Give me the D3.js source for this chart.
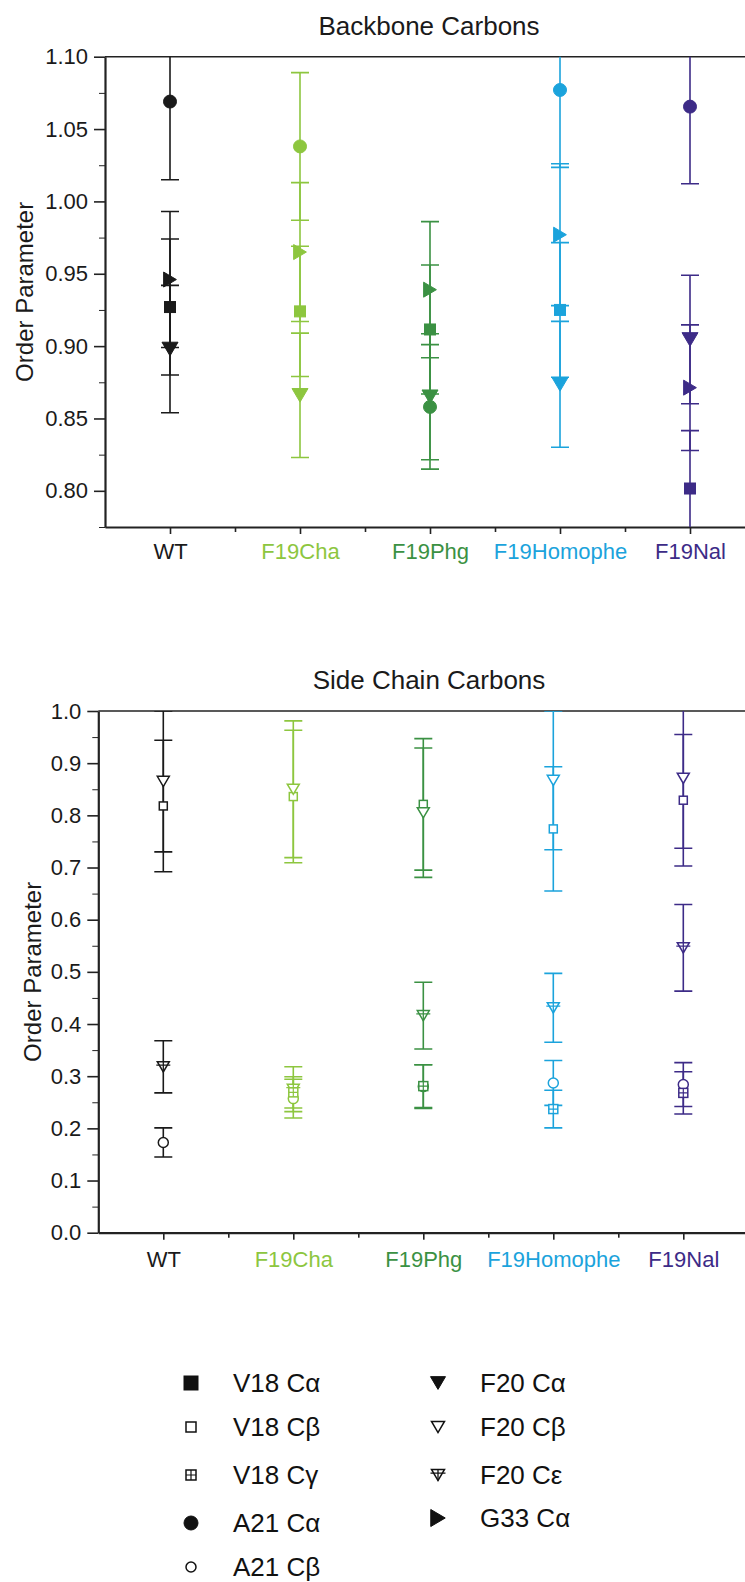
<!DOCTYPE html>
<html lang="en">
	<head>
		<meta charset="utf-8">
		<title>Order Parameter: Backbone and Side Chain Carbons</title>
		<script type="text/javascript" src="https://cdnjs.cloudflare.com/ajax/libs/d3/7.8.5/d3.min.js"></script>
		<style>
			body { margin: 0; background: #fff; }
			svg { display: block; font-family: "Liberation Sans", Arial, sans-serif; }
			.axis path, .axis line { stroke: #222; }
			.axis text { font-size: 22px; }
		</style>
	</head>
	<body>
		<div id="vis"></div>

		<script type="text/javascript">
			// categories and colours
			var groups = ["WT", "F19Cha", "F19Phg", "F19Homophe", "F19Nal"];
			var groupColors = ["#1a1a1a", "#8dc63f", "#3b9143", "#1ba3dc", "#3d2b87"];

			// backbone carbons (mean, error)
			var v18Ca = [0.927, 0.924, 0.9115, 0.925, 0.8016];
			var v18CaErr = [0.047, 0.045, 0.0446, 0.0465, 0.040];
			var a21Ca = [1.069, 1.038, 0.858, 1.077, 1.0655];
			var a21CaErr = [0.054, 0.051, 0.043, 0.0535, 0.0533];
			var f20Ca = [0.898, 0.866, 0.865, 0.8736, 0.9046];
			var f20CaErr = [0.044, 0.043, 0.0435, 0.0435, 0.0444];
			var g33Ca = [0.946, 0.965, 0.939, 0.977, 0.8713];
			var g33CaErr = [0.047, 0.048, 0.047, 0.049, 0.0434];

			// side chain carbons (mean, error)
			var v18Cb = [0.818, 0.836, 0.821, 0.774, 0.829];
			var v18CbErr = [0.126, 0.127, 0.126, 0.119, 0.126];
			var v18Cg = [null, 0.269, 0.281, 0.237, 0.268];
			var v18CgErr = [null, 0.030, 0.041, 0.036, 0.0405];
			var a21Cb = [0.173, 0.257, 0.280, 0.287, 0.284];
			var a21CbErr = [0.028, 0.037, 0.042, 0.043, 0.042];
			var f20Cb = [0.865, 0.850, 0.805, 0.867, 0.871];
			var f20CbErr = [0.135, 0.131, 0.124, 0.133, 0.134];
			var f20Ce = [0.318, 0.275, 0.416, 0.431, 0.546];
			var f20CeErr = [0.050, 0.043, 0.064, 0.066, 0.083];

			// axis ticks
			var topTicks = [0.80, 0.85, 0.90, 0.95, 1.00, 1.05, 1.10];
			var topMinor = [0.775, 0.825, 0.875, 0.925, 0.975, 1.025, 1.075];
			var sideTicks = [0.0, 0.1, 0.2, 0.3, 0.4, 0.5, 0.6, 0.7, 0.8, 0.9, 1.0];
			var sideMinor = [0.05, 0.15, 0.25, 0.35, 0.45, 0.55, 0.65, 0.75, 0.85, 0.95];

			// legend
			var legendLeft = ["V18 Cα", "V18 Cβ", "V18 Cγ", "A21 Cα", "A21 Cβ"];
			var legendLeftMarks = ["sqFill", "sqOpen", "sqGrid", "circFill", "circOpen"];
			var legendRight = ["F20 Cα", "F20 Cβ", "F20 Cε", "G33 Cα"];
			var legendRightMarks = ["triDownFill", "triDownOpen", "triDownCross", "triRightFill"];

			var W = 745, H = 1582;
			var svg = d3.select("#vis").append("svg").attr("width", W).attr("height", H);

			// draws one symbol centred on 0,0 inside g
			var marker = function(g, type, s, color) {
				var fill = /Fill/.test(type) ? color : "#fff";
				var sw = /Fill/.test(type) ? 1 : 1.5;
				var h = s * 0.85;
				if (/^sq/.test(type)) {
					g.append("rect").attr("x", -s / 2).attr("y", -s / 2).attr("width", s).attr("height", s)
						.attr("fill", fill).attr("stroke", color).attr("stroke-width", sw);
					if (type == "sqGrid") {
						g.append("path").attr("d", "M" + (-s / 2) + ",0H" + (s / 2) + "M0," + (-s / 2) + "V" + (s / 2))
							.attr("stroke", color).attr("stroke-width", 1.2);
					}
				} else if (/^circ/.test(type)) {
					g.append("circle").attr("r", s / 2).attr("fill", fill).attr("stroke", color).attr("stroke-width", sw);
				} else if (/^triDown/.test(type)) {
					g.append("path").attr("d", "M" + (-s / 2) + "," + (-h / 2) + "L" + (s / 2) + "," + (-h / 2) + "L0," + (h / 2) + "Z")
						.attr("fill", fill).attr("stroke", color).attr("stroke-width", sw).attr("stroke-linejoin", "miter");
					if (type == "triDownCross") {
						g.append("path").attr("d", "M" + (-s / 2 - 1) + "," + (-h / 6) + "H" + (s / 2 + 1) + "M0," + (-h / 2) + "V" + (h / 2))
							.attr("stroke", color).attr("stroke-width", 1.3);
					}
				} else if (type == "triRightFill") {
					g.append("path").attr("d", "M" + (-h / 2) + "," + (-s / 2) + "L" + (h / 2) + ",0L" + (-h / 2) + "," + (s / 2) + "Z")
						.attr("fill", fill).attr("stroke", color).attr("stroke-width", sw);
				}
			};

			var panel = function(opt) {
				var x = d3.scaleLinear().domain([0.5, 5.5]).range([opt.left, opt.left + 650]);
				var y = d3.scaleLinear().domain(opt.domain).range([opt.bottom, opt.top]);
				var g = svg.append("g");

				// clip to plot area
				g.append("clipPath").attr("id", opt.id).append("rect")
					.attr("x", opt.left).attr("y", opt.top).attr("width", W - opt.left).attr("height", opt.bottom - opt.top);

				// title
				g.append("text").attr("x", 429).attr("y", opt.top - 22).attr("text-anchor", "middle")
					.attr("font-size", 26).attr("fill", "#1a1a1a").text(opt.title);

				// y label
				g.append("text").attr("transform", "translate(" + opt.labelX + "," + ((opt.top + opt.bottom) / 2) + ") rotate(-90)")
					.attr("text-anchor", "middle").attr("font-size", 24).attr("fill", "#1a1a1a").text("Order Parameter");

				// top border
				g.append("line").attr("x1", opt.left).attr("x2", W).attr("y1", opt.top).attr("y2", opt.top)
					.attr("stroke", "#222").attr("stroke-width", 1.6);

				// y axis
				g.append("g").attr("class", "axis").attr("transform", "translate(" + opt.left + ",0)")
					.call(d3.axisLeft(y).tickValues(opt.minor).tickSize(6).tickSizeOuter(0).tickFormat(""))
					.select(".domain").remove();
				var ya = g.append("g").attr("class", "axis").attr("transform", "translate(" + opt.left + ",0)")
					.call(d3.axisLeft(y).tickValues(opt.ticks).tickSize(11).tickSizeOuter(0).tickPadding(6).tickFormat(d3.format(opt.fmt)));
				ya.selectAll("line").attr("stroke-width", 1.6);
				ya.select(".domain").attr("stroke-width", 2.2);
				ya.selectAll("text").style("fill", "#1a1a1a");

				// x axis
				g.append("g").attr("class", "axis").attr("transform", "translate(0," + opt.bottom + ")")
					.call(d3.axisBottom(x).tickValues([1.5, 2.5, 3.5, 4.5, 5.5]).tickSize(5).tickSizeOuter(0).tickFormat(""))
					.selectAll("line").attr("stroke-width", 1.6);
				var xa = g.append("g").attr("class", "axis").attr("transform", "translate(0," + opt.bottom + ")")
					.call(d3.axisBottom(x).tickValues([1, 2, 3, 4, 5]).tickSize(7).tickSizeOuter(0).tickPadding(opt.xPad)
						.tickFormat(function(d) { return groups[d - 1]; }));
				xa.selectAll("line").attr("stroke-width", 1.6);
				xa.select(".domain").attr("stroke-width", 2.2);
				xa.selectAll("text").style("fill", function(d) { return groupColors[d - 1]; });

				// error bars and symbols
				var plot = g.append("g").attr("clip-path", "url(#" + opt.id + ")");
				opt.series.forEach(function(s) {
					groups.forEach(function(name, i) {
						if (s.mean[i] == null) return;
						var cx = x(i + 1), c = groupColors[i];
						var y1 = y(s.mean[i] + s.err[i]), y0 = y(s.mean[i] - s.err[i]);
						plot.append("path")
							.attr("d", "M" + cx + "," + y0 + "V" + y1 + "M" + (cx - 9) + "," + y0 + "H" + (cx + 9) + "M" + (cx - 9) + "," + y1 + "H" + (cx + 9))
							.attr("fill", "none").attr("stroke", c).attr("stroke-width", 1.6);
					});
				});
				opt.series.forEach(function(s) {
					groups.forEach(function(name, i) {
						if (s.mean[i] == null) return;
						var m = plot.append("g").attr("transform", "translate(" + x(i + 1) + "," + y(s.mean[i]) + ")");
						marker(m, s.mark, s.size, groupColors[i]);
					});
				});
			};

			panel({
				id: "clipTop", title: "Backbone Carbons", left: 105, top: 56.7, bottom: 527,
				domain: [0.775, 1.10], ticks: topTicks, minor: topMinor, fmt: ".2f", labelX: 33, xPad: 9,
				series: [
					{ mean: v18Ca, err: v18CaErr, mark: "sqFill", size: 11 },
					{ mean: a21Ca, err: a21CaErr, mark: "circFill", size: 13 },
					{ mean: f20Ca, err: f20CaErr, mark: "triDownFill", size: 16 },
					{ mean: g33Ca, err: g33CaErr, mark: "triRightFill", size: 15 }
				]
			});

			panel({
				id: "clipSide", title: "Side Chain Carbons", left: 98.3, top: 711, bottom: 1232.7,
				domain: [0, 1.0], ticks: sideTicks, minor: sideMinor, fmt: ".1f", labelX: 41, xPad: 12,
				series: [
					{ mean: v18Cb, err: v18CbErr, mark: "sqOpen", size: 8 },
					{ mean: f20Cb, err: f20CbErr, mark: "triDownOpen", size: 12 },
					{ mean: f20Ce, err: f20CeErr, mark: "triDownCross", size: 12 },
					{ mean: a21Cb, err: a21CbErr, mark: "circOpen", size: 10 },
					{ mean: v18Cg, err: v18CgErr, mark: "sqGrid", size: 9 }
				]
			});

			// legend
			var legendRowsLeft = [1383, 1427, 1475, 1523, 1567];
			var legendRowsRight = [1383, 1427, 1475, 1518];
			var legendSizes = { sqFill: 14, sqOpen: 10, sqGrid: 10, circFill: 14, circOpen: 10,
				triDownFill: 15, triDownOpen: 13, triDownCross: 13, triRightFill: 17 };
			var leg = svg.append("g");
			legendLeft.forEach(function(t, i) {
				var m = leg.append("g").attr("transform", "translate(191," + legendRowsLeft[i] + ")");
				marker(m, legendLeftMarks[i], legendSizes[legendLeftMarks[i]], "#111");
				leg.append("text").attr("x", 233).attr("y", legendRowsLeft[i] + 9).attr("font-size", 26).attr("fill", "#111").text(t);
			});
			legendRight.forEach(function(t, i) {
				var m = leg.append("g").attr("transform", "translate(438," + legendRowsRight[i] + ")");
				marker(m, legendRightMarks[i], legendSizes[legendRightMarks[i]], "#111");
				leg.append("text").attr("x", 480).attr("y", legendRowsRight[i] + 9).attr("font-size", 26).attr("fill", "#111").text(t);
			});
		</script>
	</body>
</html>
